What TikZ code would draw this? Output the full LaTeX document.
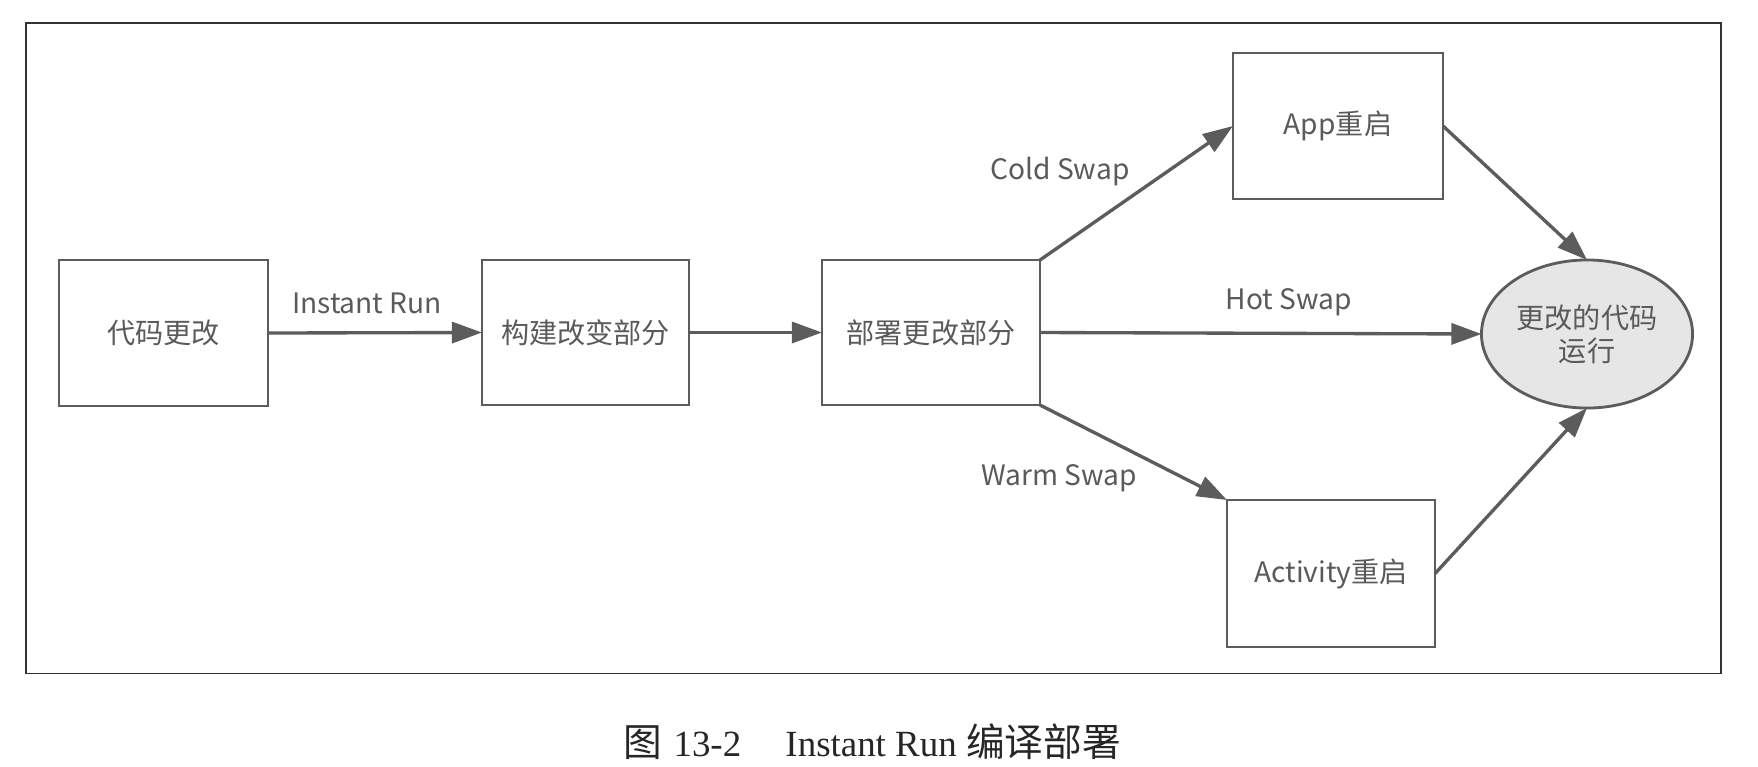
\documentclass[tikz,border=0pt]{standalone}
\usepackage{fontspec}
\setmainfont{Noto Sans CJK SC}
\newfontfamily\capcjk{Noto Sans CJK SC}
\newfontfamily\capserif{Liberation Serif}
\usetikzlibrary{arrows.meta,shapes.geometric}
\definecolor{linec}{HTML}{5C5C5C}
\definecolor{textc}{HTML}{5A5A5A}
\definecolor{fillc}{HTML}{E6E6E6}
\definecolor{framec}{HTML}{333333}
\begin{document}
\begin{tikzpicture}[x=0.01cm,y=-0.01cm,
  stepbox/.style={draw=linec, line width=0.8pt, fill=white, inner sep=0pt, outer sep=0pt,
    text=textc, font=\fontsize{8}{9.4}\selectfont, align=center},
  lbl/.style={text=textc, font=\fontsize{8}{9.4}\selectfont, inner sep=0pt},
  conn/.style={draw=linec, line width=0.95pt, -{Triangle[length=0.3cm,width=0.21cm]}},
]
\useasboundingbox (0,0) rectangle (1758,766);
\node[draw=framec, line width=0.5pt, minimum width=16.94cm, minimum height=6.5cm,
  inner sep=0pt, outer sep=0pt, anchor=north west] (frame) at (26,23) {};

\node[stepbox, minimum width=2.09cm, minimum height=1.46cm] (b1) at (163.5,333) {代码更改};
\node[stepbox, minimum width=2.07cm, minimum height=1.45cm] (b2) at (585.5,332.5) {构建改变部分};
\node[stepbox, minimum width=2.18cm, minimum height=1.45cm] (b3) at (931,332.5) {部署更改部分};
\node[stepbox, minimum width=2.10cm, minimum height=1.46cm] (app) at (1338,126) {App重启};
\node[stepbox, minimum width=2.08cm, minimum height=1.47cm] (act) at (1331,573.5) {Activity重启};
\node[ellipse, draw=linec, line width=0.8pt, fill=fillc, inner sep=0pt, outer sep=0pt,
  minimum width=2.11cm, minimum height=1.48cm, text=textc,
  font=\fontsize{8}{9.4}\selectfont, align=center] (ell) at (1587,334) {更改的代码\\运行};

\draw[conn] (b1.east) -- (b2.west);
\draw[conn] (b2.east) -- (b3.west);
\draw[conn] (b3.north east) -- (app.west);
\draw[conn] (b3.east) -- (ell.west);
\draw[conn] (b3.south east) -- (act.north west);
\draw[conn] (app.east) -- (ell.north);
\draw[conn] (act.east) -- (ell.south);

\node[lbl] (linstant) at (367,303) {Instant Run};
\node[lbl] (lcold) at (1060,172) {Cold Swap};
\node[lbl] (lhot) at (1289,302) {Hot Swap};
\node[lbl] (lwarm) at (1059,478) {Warm Swap};

\node[inner sep=0pt, text=black!85] (caption) at (872,742)
  {\capcjk\fontsize{11}{13}\selectfont 图\hspace{0.3em}{\capserif\fontsize{10.5}{13}\selectfont 13-2\hspace{1.2em}Instant Run }编译部署};
\end{tikzpicture}
\end{document}
